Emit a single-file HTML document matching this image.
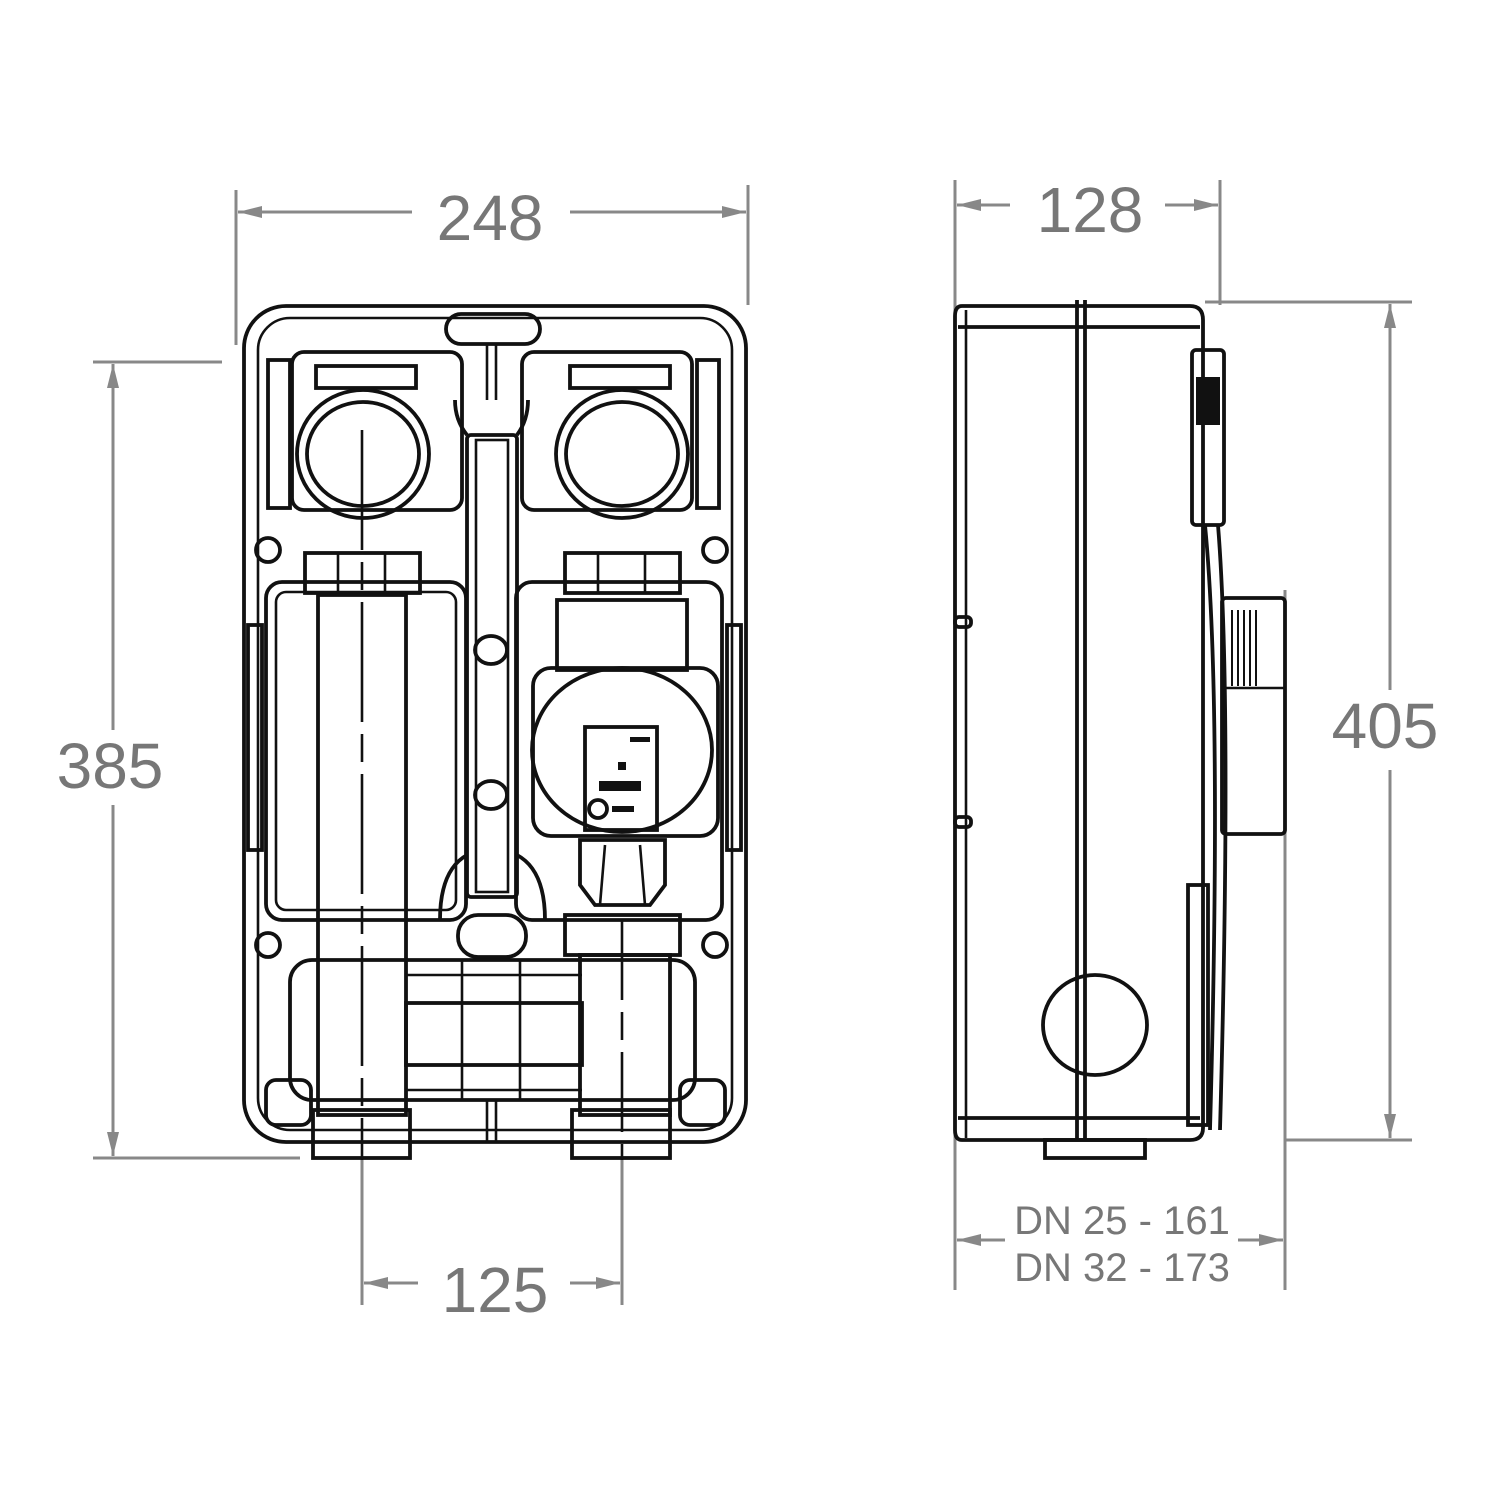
<!DOCTYPE html>
<html><head><meta charset="utf-8"><style>
html,body{margin:0;padding:0;background:#fff;}
svg{display:block;}
.d{stroke:#888;stroke-width:3;fill:none;}
.t{font-family:"Liberation Sans",sans-serif;fill:#777;}
.k{stroke:#111;stroke-width:3.8;fill:none;}
.k2{stroke:#111;stroke-width:2.6;fill:none;}
</style></head><body>
<svg width="1500" height="1500" viewBox="0 0 1500 1500" xmlns="http://www.w3.org/2000/svg">
<defs>
<marker id="a" viewBox="0 0 24 12" refX="24" refY="6" markerWidth="24" markerHeight="12" markerUnits="userSpaceOnUse" orient="auto-start-reverse"><path d="M0,0 L24,6 L0,12z" fill="#888"/></marker>
</defs>
<!-- Dimension 248 -->
<line class="d" x1="236" y1="190" x2="236" y2="345"/>
<line class="d" x1="748" y1="185" x2="748" y2="305"/>
<line class="d" x1="238" y1="212" x2="412" y2="212" marker-start="url(#a)"/>
<line class="d" x1="570" y1="212" x2="746" y2="212" marker-end="url(#a)"/>
<text class="t" x="490" y="240" font-size="64" text-anchor="middle">248</text>
<!-- Dimension 385 -->
<line class="d" x1="93" y1="362" x2="222" y2="362"/>
<line class="d" x1="93" y1="1158" x2="300" y2="1158"/>
<line class="d" x1="113" y1="364" x2="113" y2="730" marker-start="url(#a)"/>
<line class="d" x1="113" y1="805" x2="113" y2="1156" marker-end="url(#a)"/>
<text class="t" x="110" y="788" font-size="64" text-anchor="middle">385</text>
<!-- Dimension 125 -->
<line class="d" x1="362" y1="1160" x2="362" y2="1305"/>
<line class="d" x1="622" y1="1160" x2="622" y2="1305"/>
<line class="d" x1="364" y1="1283" x2="418" y2="1283" marker-start="url(#a)"/>
<line class="d" x1="570" y1="1283" x2="620" y2="1283" marker-end="url(#a)"/>
<text class="t" x="495" y="1312" font-size="64" text-anchor="middle">125</text>
<!-- Dimension 128 -->
<line class="d" x1="955" y1="180" x2="955" y2="1290"/>
<line class="d" x1="1220" y1="180" x2="1220" y2="305"/>
<line class="d" x1="957" y1="205" x2="1010" y2="205" marker-start="url(#a)"/>
<line class="d" x1="1165" y1="205" x2="1218" y2="205" marker-end="url(#a)"/>
<text class="t" x="1090" y="232" font-size="64" text-anchor="middle">128</text>
<!-- Dimension 405 -->
<line class="d" x1="1205" y1="302" x2="1412" y2="302"/>
<line class="d" x1="1285" y1="1140" x2="1412" y2="1140"/>
<line class="d" x1="1390" y1="304" x2="1390" y2="690" marker-start="url(#a)"/>
<line class="d" x1="1390" y1="770" x2="1390" y2="1138" marker-end="url(#a)"/>
<text class="t" x="1385" y="748" font-size="64" text-anchor="middle">405</text>
<!-- DN dimension -->
<line class="d" x1="1285" y1="590" x2="1285" y2="1290"/>
<line class="d" x1="957" y1="1240" x2="1005" y2="1240" marker-start="url(#a)"/>
<line class="d" x1="1238" y1="1240" x2="1283" y2="1240" marker-end="url(#a)"/>
<text class="t" x="1122" y="1234" font-size="40" text-anchor="middle">DN 25 - 161</text>
<text class="t" x="1122" y="1281" font-size="40" text-anchor="middle">DN 32 - 173</text>

<!-- FRONT VIEW -->
<rect class="k" x="244" y="306" width="502" height="836" rx="42"/>
<rect class="k2" x="258" y="318" width="474" height="812" rx="32"/>
<rect class="k" x="446" y="314" width="94" height="30" rx="15"/>
<line class="k2" x1="487" y1="345" x2="487" y2="400"/><line class="k2" x1="496" y1="345" x2="496" y2="400"/>
<rect class="k" x="268" y="360" width="22" height="148" /><rect class="k" x="697" y="360" width="22" height="148"/>
<rect class="k" x="248" y="625" width="14" height="225"/><rect class="k" x="727" y="625" width="14" height="225"/>
<rect class="k" x="292" y="352" width="170" height="158" rx="12"/>
<rect class="k" x="522" y="352" width="170" height="158" rx="12"/>
<rect class="k" x="316" y="366" width="100" height="22"/>
<rect class="k" x="570" y="366" width="100" height="22"/>
<ellipse class="k" cx="363" cy="454" rx="66" ry="64"/>
<ellipse class="k" cx="363" cy="454" rx="56" ry="52"/>
<ellipse class="k" cx="622" cy="454" rx="66" ry="64"/>
<ellipse class="k" cx="622" cy="454" rx="56" ry="52"/>
<circle class="k" cx="268" cy="550" r="12"/><circle class="k" cx="715" cy="550" r="12"/>
<circle class="k" cx="268" cy="945" r="12"/><circle class="k" cx="715" cy="945" r="12"/>
<rect class="k" x="305" y="553" width="115" height="40"/>
<line class="k2" x1="338" y1="553" x2="338" y2="593"/><line class="k2" x1="385" y1="553" x2="385" y2="593"/>
<rect class="k" x="565" y="553" width="115" height="40"/>
<line class="k2" x1="598" y1="553" x2="598" y2="593"/><line class="k2" x1="645" y1="553" x2="645" y2="593"/>
<rect class="k" x="266" y="582" width="200" height="338" rx="16"/>
<rect class="k" x="516" y="582" width="206" height="338" rx="16"/>
<rect class="k2" x="276" y="592" width="180" height="318" rx="10"/>
<rect class="k" x="467" y="435" width="50" height="462" rx="4"/>
<rect class="k2" x="476" y="440" width="32" height="452"/>
<ellipse class="k" cx="491" cy="650" rx="16" ry="14"/>
<ellipse class="k" cx="491" cy="795" rx="16" ry="14"/>
<path class="k" d="M440,920 Q440,870 467,855 M545,920 Q545,870 517,855"/>
<path class="k" d="M455,400 Q455,420 467,435 M528,400 Q528,420 517,435"/>
<rect class="k" x="458" y="915" width="68" height="42" rx="20"/>
<rect class="k" x="318" y="595" width="88" height="520"/>
<rect class="k" x="313" y="1110" width="97" height="48"/>
<line class="k2" x1="362" y1="430" x2="362" y2="1160" stroke-dasharray="120,12,28,12"/>
<rect class="k" x="290" y="960" width="405" height="140" rx="22"/>
<rect class="k" x="406" y="1003" width="176" height="62"/>
<line class="k2" x1="406" y1="975" x2="582" y2="975"/><line class="k2" x1="406" y1="1090" x2="582" y2="1090"/>
<line class="k2" x1="462" y1="960" x2="462" y2="1100"/><line class="k2" x1="520" y1="960" x2="520" y2="1100"/>
<rect class="k" x="266" y="1080" width="45" height="45" rx="10"/>
<rect class="k" x="680" y="1080" width="45" height="45" rx="10"/>
<line class="k2" x1="487" y1="1100" x2="487" y2="1142"/><line class="k2" x1="496" y1="1100" x2="496" y2="1142"/>
<rect class="k" x="557" y="600" width="130" height="70"/>
<rect class="k" x="533" y="668" width="185" height="168" rx="18" stroke-width="5"/>
<ellipse class="k" cx="622" cy="750" rx="90" ry="82" fill="#fff" stroke-width="5"/>
<rect class="k" x="585" y="727" width="72" height="103" fill="#fff"/>
<rect x="630" y="737" width="20" height="5" fill="#111"/>
<rect x="618" y="762" width="8" height="8" fill="#111"/>
<rect x="599" y="781" width="42" height="10" fill="#111"/>
<circle class="k" cx="598" cy="809" r="9"/>
<rect x="612" y="806" width="22" height="6" fill="#111"/>
<path class="k" d="M580,840 L665,840 L665,885 L650,905 L595,905 L580,885 Z"/>
<line class="k2" x1="605" y1="845" x2="600" y2="905"/><line class="k2" x1="640" y1="845" x2="645" y2="905"/>
<rect class="k" x="565" y="915" width="115" height="40"/>
<rect class="k" x="580" y="955" width="90" height="160"/>
<rect class="k" x="572" y="1110" width="98" height="48"/>
<line class="k2" x1="622" y1="920" x2="622" y2="1160" stroke-dasharray="80,12,28,12"/>

<!-- SIDE VIEW -->
<path class="k" d="M962,306 L1190,306 Q1203,306 1203,320 L1203,1128 Q1203,1140 1190,1140 L962,1140 Q955,1140 955,1130 L955,316 Q955,306 962,306Z"/>
<line class="k2" x1="966" y1="310" x2="966" y2="1138"/>
<line class="k" x1="958" y1="327" x2="1200" y2="327"/>
<line class="k" x1="958" y1="1118" x2="1200" y2="1118"/>
<line class="k" x1="1077" y1="300" x2="1077" y2="1140"/><line class="k" x1="1085" y1="300" x2="1085" y2="1140"/>
<rect class="k" x="955" y="617" width="16" height="10" rx="4"/>
<rect class="k" x="955" y="817" width="16" height="10" rx="4"/>
<ellipse class="k" cx="1095" cy="1025" rx="52" ry="50" fill="#fff"/>
<rect class="k" x="1045" y="1140" width="100" height="18"/>
<rect class="k" x="1192" y="350" width="32" height="175" rx="4"/>
<rect x="1196" y="377" width="24" height="48" fill="#111"/>
<path class="k" d="M1205,525 Q1222,700 1210,1130"/>
<path class="k" d="M1218,525 Q1232,700 1220,1130"/>
<rect class="k" x="1222" y="598" width="63" height="236" rx="4"/>
<line class="k2" x1="1222" y1="688" x2="1285" y2="688"/>
<g stroke="#111" stroke-width="2"><line x1="1232" y1="610" x2="1232" y2="686"/><line x1="1238" y1="610" x2="1238" y2="686"/><line x1="1244" y1="610" x2="1244" y2="686"/><line x1="1250" y1="610" x2="1250" y2="686"/><line x1="1256" y1="610" x2="1256" y2="686"/></g>
<rect class="k" x="1188" y="885" width="20" height="240"/>
</svg>
</body></html>
